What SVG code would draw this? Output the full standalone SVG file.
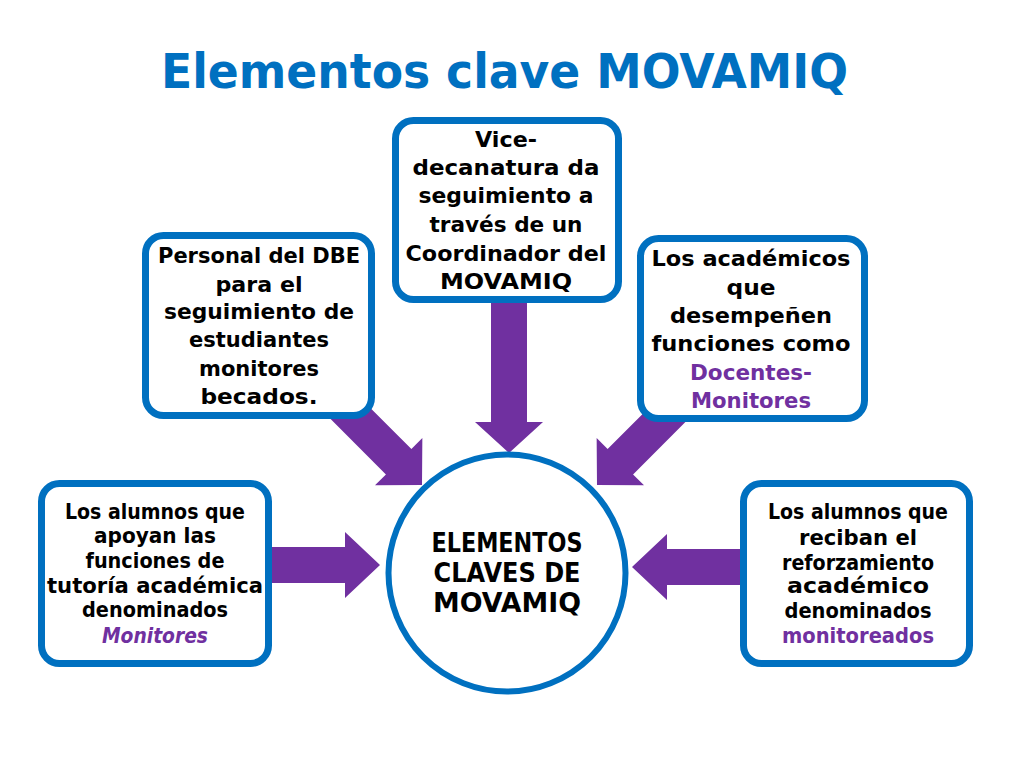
<svg xmlns="http://www.w3.org/2000/svg" width="1024" height="768" viewBox="0 0 1024 768">
<style>
.bg{fill:#ffffff}
.box{fill:#ffffff;stroke:#0070C0;stroke-width:7}
.circ{fill:#ffffff;stroke:#0070C0;stroke-width:6}
.arrow{fill:#7030A0}
.title{font-family:"DejaVu Sans","Liberation Sans",sans-serif;font-weight:bold;font-size:48px;fill:#0070C0;text-anchor:middle}
.t{font-family:"DejaVu Sans","Liberation Sans",sans-serif;font-weight:bold;font-size:22px;fill:#000000;text-anchor:middle}
.b{font-family:"DejaVu Sans","Liberation Sans",sans-serif;font-weight:bold;font-size:20.5px;fill:#000000;text-anchor:middle}
.c{font-family:"DejaVu Sans","Liberation Sans",sans-serif;font-weight:bold;font-size:27px;fill:#000000;text-anchor:middle}
.p{fill:#7030A0}
.i{font-style:italic}
</style>
<rect class="bg" x="0" y="0" width="1024" height="768"/>
<text class="title" x="504.5" y="88" textLength="687" lengthAdjust="spacingAndGlyphs">Elementos clave MOVAMIQ</text>

<g id="connectors">
  <!-- top -->
  <polygon class="arrow" transform="translate(509,453) rotate(90)" points="-165,-18 -31,-18 -31,-34 0,0 -31,34 -31,18 -165,18"/>
  <!-- upper-left -->
  <polygon class="arrow" transform="translate(422,485) rotate(45)" points="-125,-18 -33,-18 -33,-33.5 0,0 -33,33.5 -33,18 -125,18"/>
  <!-- upper-right -->
  <polygon class="arrow" transform="translate(597,485) rotate(135)" points="-125,-18 -33,-18 -33,-33.5 0,0 -33,33.5 -33,18 -125,18"/>
  <!-- left -->
  <polygon class="arrow" transform="translate(380,565)" points="-115,-18 -35,-18 -35,-33 0,0 -35,33 -35,18 -115,18"/>
  <!-- right -->
  <polygon class="arrow" transform="translate(632,567) rotate(180)" points="-115,-18 -35,-18 -35,-33 0,0 -35,33 -35,18 -115,18"/>
</g>

<g id="center">
  <circle class="circ" cx="507" cy="573" r="118.5"/>
  <text class="c" x="507" y="552" textLength="151" lengthAdjust="spacingAndGlyphs">ELEMENTOS</text>
  <text class="c" x="507" y="582" textLength="147" lengthAdjust="spacingAndGlyphs">CLAVES DE</text>
  <text class="c" x="507" y="612" textLength="148" lengthAdjust="spacingAndGlyphs">MOVAMIQ</text>
</g>

<g id="vicedecanatura">
  <rect class="box" x="395.5" y="120.5" width="223" height="179" rx="18"/>
  <text class="t" x="506" y="147" textLength="62" lengthAdjust="spacingAndGlyphs">Vice-</text>
  <text class="t" x="506" y="175" textLength="187" lengthAdjust="spacingAndGlyphs">decanatura da</text>
  <text class="t" x="506" y="203" textLength="175" lengthAdjust="spacingAndGlyphs">seguimiento a</text>
  <text class="t" x="506" y="232" textLength="153" lengthAdjust="spacingAndGlyphs">través de un</text>
  <text class="t" x="506" y="261" textLength="201" lengthAdjust="spacingAndGlyphs">Coordinador del</text>
  <text class="t" x="506" y="289" textLength="132" lengthAdjust="spacingAndGlyphs">MOVAMIQ</text>
</g>

<g id="personal-dbe">
  <rect class="box" x="145.5" y="235.5" width="226" height="180" rx="18"/>
  <text class="t" x="259" y="263" textLength="202" lengthAdjust="spacingAndGlyphs">Personal del DBE</text>
  <text class="t" x="259" y="292" textLength="87" lengthAdjust="spacingAndGlyphs">para el</text>
  <text class="t" x="259" y="319" textLength="190" lengthAdjust="spacingAndGlyphs">seguimiento de</text>
  <text class="t" x="259" y="347" textLength="140" lengthAdjust="spacingAndGlyphs">estudiantes</text>
  <text class="t" x="259" y="376" textLength="120" lengthAdjust="spacingAndGlyphs">monitores</text>
  <text class="t" x="259" y="404" textLength="117" lengthAdjust="spacingAndGlyphs">becados.</text>
</g>

<g id="academicos">
  <rect class="box" x="640.5" y="238.5" width="224" height="180" rx="18"/>
  <text class="t" x="751" y="266" textLength="199" lengthAdjust="spacingAndGlyphs">Los académicos</text>
  <text class="t" x="751" y="294.5" textLength="49" lengthAdjust="spacingAndGlyphs">que</text>
  <text class="t" x="751" y="323" textLength="162" lengthAdjust="spacingAndGlyphs">desempeñen</text>
  <text class="t" x="751" y="351" textLength="199" lengthAdjust="spacingAndGlyphs">funciones como</text>
  <text class="t p" x="751" y="379.5" textLength="122" lengthAdjust="spacingAndGlyphs">Docentes-</text>
  <text class="t p" x="751" y="408" textLength="120" lengthAdjust="spacingAndGlyphs">Monitores</text>
</g>

<g id="monitores">
  <rect class="box" x="41.5" y="483.5" width="227" height="180" rx="18"/>
  <text class="b" x="155" y="519" textLength="180" lengthAdjust="spacingAndGlyphs">Los alumnos que</text>
  <text class="b" x="155" y="543" textLength="122" lengthAdjust="spacingAndGlyphs">apoyan las</text>
  <text class="b" x="155" y="568" textLength="139" lengthAdjust="spacingAndGlyphs">funciones de</text>
  <text class="b" x="155" y="593" textLength="216" lengthAdjust="spacingAndGlyphs">tutoría académica</text>
  <text class="b" x="155" y="617" textLength="146" lengthAdjust="spacingAndGlyphs">denominados</text>
  <text class="b p i" x="155" y="643" textLength="106" lengthAdjust="spacingAndGlyphs">Monitores</text>
</g>

<g id="monitoreados">
  <rect class="box" x="743.5" y="483.5" width="226" height="180" rx="18"/>
  <text class="b" x="858" y="519" textLength="180" lengthAdjust="spacingAndGlyphs">Los alumnos que</text>
  <text class="b" x="858" y="545" textLength="118" lengthAdjust="spacingAndGlyphs">reciban el</text>
  <text class="b" x="858" y="570" textLength="152" lengthAdjust="spacingAndGlyphs">reforzamiento</text>
  <text class="b" x="858" y="593" textLength="142" lengthAdjust="spacingAndGlyphs">académico</text>
  <text class="b" x="858" y="618" textLength="147" lengthAdjust="spacingAndGlyphs">denominados</text>
  <text class="b p" x="858" y="643" textLength="152" lengthAdjust="spacingAndGlyphs">monitoreados</text>
</g>
</svg>
